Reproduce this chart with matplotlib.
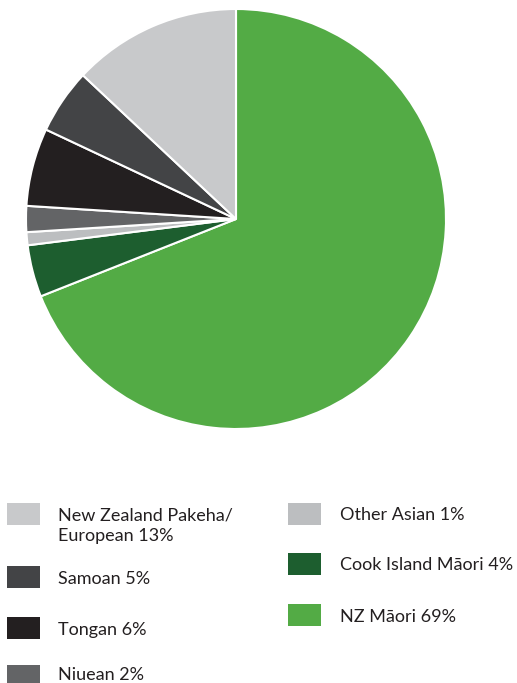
import matplotlib
matplotlib.use("Agg")
import matplotlib.pyplot as plt
from matplotlib.patches import Rectangle

# Data (clockwise from 12 o'clock)
categories = ["NZ Māori", "Cook Island Māori", "Other Asian", "Niuean", "Tongan", "Samoan", "New Zealand Pakeha/\nEuropean"]
values = [69, 4, 1, 2, 6, 5, 13]
colors = ["#53ab45", "#1d5e2f", "#bcbec0", "#636466", "#231f20", "#434446", "#c8c9cb"]

# Legend order (two columns)
legend_col1 = ["New Zealand Pakeha/\nEuropean", "Samoan", "Tongan", "Niuean"]
legend_col2 = ["Other Asian", "Cook Island Māori", "NZ Māori"]

plt.rcParams['font.family'] = ['Lato', 'DejaVu Sans']

W, H = 517, 683
fig = plt.figure(figsize=(W / 100, H / 100), dpi=100)

cx, cy, r = 236, 219, 210
ax = fig.add_axes([(cx - r) / W, 1 - (cy + r) / H, 2 * r / W, 2 * r / H])
ax.pie(values, colors=colors, startangle=90, counterclock=False,
       wedgeprops=dict(edgecolor="white", linewidth=1.5))
ax.set_aspect("equal")
ax.set_xlim(-1, 1)
ax.set_ylim(-1, 1)
ax.axis("off")

lookup = dict(zip(categories, zip(values, colors)))

def draw_entry(name, x_box, y_top, x_text):
    val, col = lookup[name]
    fig.patches.append(Rectangle((x_box / W, 1 - (y_top + 22) / H), 33 / W, 22 / H,
                                 transform=fig.transFigure, facecolor=col, edgecolor="none"))
    lines = f"{name} {val}%".split("\n")
    for i, line in enumerate(lines):
        yc = min(y_top + 11, H - 10) + i * 20
        fig.text(x_text / W, 1 - yc / H, line, ha="left", va="center_baseline",
                 fontsize=13, color="#231f20")

for name, y in zip(legend_col1, [503, 566, 617, 665]):
    draw_entry(name, 7, y, 58)
for name, y in zip(legend_col2, [503, 553, 604]):
    draw_entry(name, 288, y, 340)

fig.savefig("out.png", dpi=100)
